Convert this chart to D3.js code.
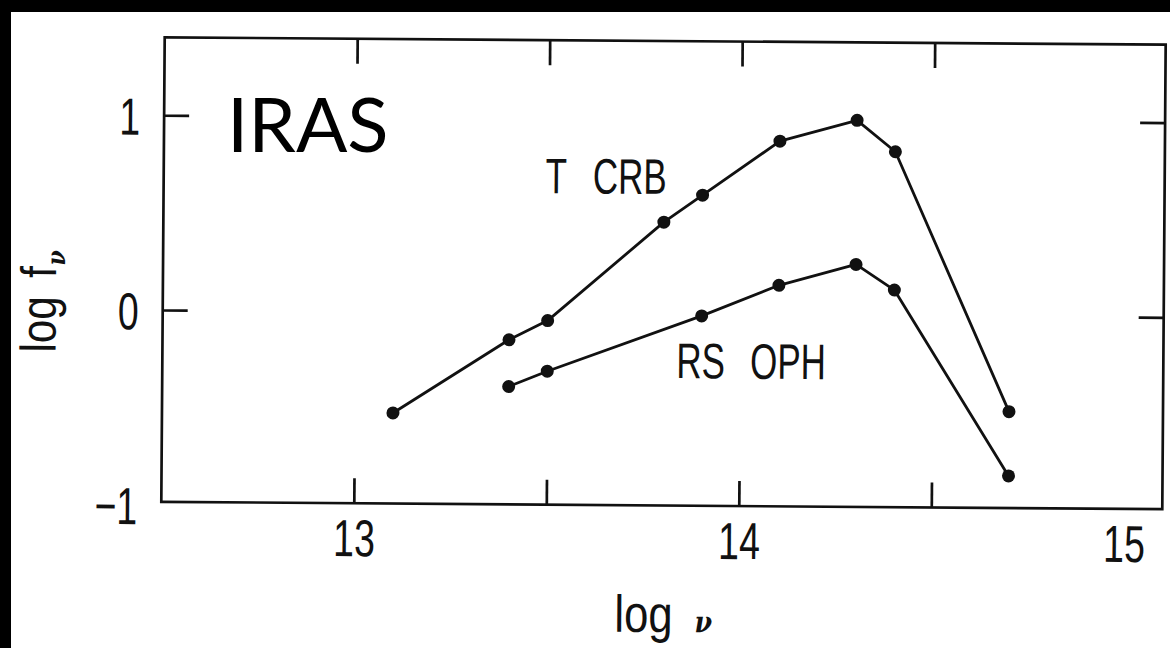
<!DOCTYPE html>
<html>
<head>
<meta charset="utf-8">
<script src="https://cdn.jsdelivr.net/npm/d3@7"></script>
<style>
  html, body { margin: 0; padding: 0; background: #fff; }
  svg { display: block; }
  .lab { font-family: "Liberation Sans", Arial, sans-serif; }
</style>
</head>
<body>
<svg id="chart" width="1170" height="648"></svg>
<script>
// Axis ticks and labels
const xTickValues = [13, 13.5, 14, 14.5];
const xLabelValues = [13, 14, 15];
const yTickValues = [0, 1];
const yLabelValues = [-1, 0, 1];

// Spectral energy distributions: log frequency vs log flux density
const tcrbNu   = [13.1, 13.4, 13.5, 13.8, 13.9, 14.1, 14.3, 14.4, 14.7];
const tcrbFlux = [-0.52, -0.14, -0.04, 0.47, 0.61, 0.89, 1.00, 0.84, -0.49];
const rsophNu   = [13.4, 13.5, 13.9, 14.1, 14.3, 14.4, 14.7];
const rsophFlux = [-0.38, -0.30, -0.01, 0.15, 0.26, 0.13, -0.82];

const seriesNames = ["T CRB", "RS OPH"];

const W = 1170, H = 648;
const svg = d3.select("#chart");

// page background with dark margins along top and left
svg.append("rect").attr("width", W).attr("height", H).attr("fill", "#fff");
svg.append("rect").attr("x", 0).attr("y", 0).attr("width", W).attr("height", 12).attr("fill", "#000");
svg.append("rect").attr("x", 0).attr("y", 0).attr("width", 11).attr("height", H).attr("fill", "#000");

const plot = { left: 163, right: 1164, top: 41, bottom: 505.5 };
const x = d3.scaleLinear().domain([12.5, 15.1]).range([plot.left, plot.right]);
const y = d3.scaleLinear().domain([-0.985, 1.4]).range([plot.bottom, plot.top]);

// the printed figure sits at a slight tilt
const g = svg.append("g").attr("transform", "rotate(0.42,663,272)");

const ink = "#111";
const sw = 2.7;

g.append("rect")
  .attr("x", plot.left).attr("y", plot.top)
  .attr("width", plot.right - plot.left).attr("height", plot.bottom - plot.top)
  .attr("fill", "none").attr("stroke", ink).attr("stroke-width", sw);

function styleTicks(sel) {
  sel.select(".domain").remove();
  sel.selectAll(".tick line").attr("stroke", ink).attr("stroke-width", sw);
}

const tick = 25;
g.append("g").attr("transform", `translate(0,${plot.bottom})`)
  .call(d3.axisBottom(x).tickValues(xTickValues).tickSizeInner(-tick).tickSizeOuter(0).tickFormat(""))
  .call(styleTicks);
g.append("g").attr("transform", `translate(0,${plot.top})`)
  .call(d3.axisTop(x).tickValues(xTickValues).tickSizeInner(-tick).tickSizeOuter(0).tickFormat(""))
  .call(styleTicks);
g.append("g").attr("transform", `translate(${plot.left},0)`)
  .call(d3.axisLeft(y).tickValues(yTickValues).tickSizeInner(-tick).tickSizeOuter(0).tickFormat(""))
  .call(styleTicks);
g.append("g").attr("transform", `translate(${plot.right},0)`)
  .call(d3.axisRight(y).tickValues(yTickValues).tickSizeInner(-tick).tickSizeOuter(0).tickFormat(""))
  .call(styleTicks);

// tick labels (condensed)
const sx = 0.72;
const xLab = g.append("g").attr("transform", `translate(0,${plot.bottom})`)
  .call(d3.axisBottom(x).tickValues(xLabelValues).tickSize(0).tickFormat(d3.format("d")));
xLab.select(".domain").remove();
xLab.selectAll("text")
  .attr("class", "lab")
  .attr("y", 53).attr("dy", null)
  .attr("font-size", 52).attr("fill", ink)
  .attr("transform", `scale(${sx},1)`);

const yLab = g.append("g").attr("transform", `translate(${plot.left},0)`)
  .call(d3.axisLeft(y).tickValues(yLabelValues).tickSize(0).tickFormat(d3.format("d")));
yLab.select(".domain").remove();
yLab.selectAll("text")
  .attr("class", "lab")
  .attr("x", -24 / sx).attr("y", 19).attr("dy", null)
  .attr("font-size", 52).attr("fill", ink)
  .attr("transform", `scale(${sx},1)`);

// axis titles
const xt = g.append("text").attr("class", "lab")
  .attr("transform", "translate(617,632) scale(0.84,1)")
  .attr("font-size", 52).attr("fill", ink);
xt.append("tspan").text("log");
xt.append("tspan").attr("dx", 26)
  .attr("font-family", "DejaVu Serif, serif").attr("font-style", "italic").attr("font-weight", "bold")
  .attr("font-size", 30).text("ν");

const yt = g.append("text").attr("class", "lab")
  .attr("transform", "translate(56,357) rotate(-90) scale(0.84,1)")
  .attr("font-size", 50).attr("fill", ink);
yt.append("tspan").text("log");
yt.append("tspan").attr("dx", 22).text("f");
yt.append("tspan").attr("dy", 9).attr("dx", 1)
  .attr("font-family", "DejaVu Serif, serif").attr("font-style", "italic").attr("font-weight", "bold")
  .attr("font-size", 26).text("ν");

// data lines and markers
const series = [
  { name: seriesNames[0], pts: tcrbNu.map((n, i) => ({ nu: n, f: tcrbFlux[i] })) },
  { name: seriesNames[1], pts: rsophNu.map((n, i) => ({ nu: n, f: rsophFlux[i] })) }
];
const line = d3.line().x(d => x(d.nu)).y(d => y(d.f));

series.forEach(s => {
  g.append("path").datum(s.pts)
    .attr("d", line).attr("fill", "none")
    .attr("stroke", ink).attr("stroke-width", 2.8).attr("stroke-linejoin", "round");
  g.append("g").selectAll("circle").data(s.pts).join("circle")
    .attr("cx", d => x(d.nu)).attr("cy", d => y(d.f)).attr("r", 6.5).attr("fill", ink);
});

// series labels
const lsx = 0.7;
g.append("text").attr("class", "lab")
  .attr("transform", `translate(545,194) scale(${lsx},1)`)
  .attr("font-size", 50).attr("fill", ink)
  .style("word-spacing", "24px")
  .text(seriesNames[0]);
g.append("text").attr("class", "lab")
  .attr("transform", `translate(677,378) scale(${lsx},1)`)
  .attr("font-size", 50).attr("fill", ink)
  .style("word-spacing", "22px")
  .text(seriesNames[1]);

// instrument caption
svg.append("text")
  .attr("x", 227).attr("y", 152)
  .attr("font-family", "Lato, 'Open Sans', sans-serif")
  .attr("font-size", 76).attr("fill", "#000")
  .text("IRAS");
</script>
</body>
</html>
